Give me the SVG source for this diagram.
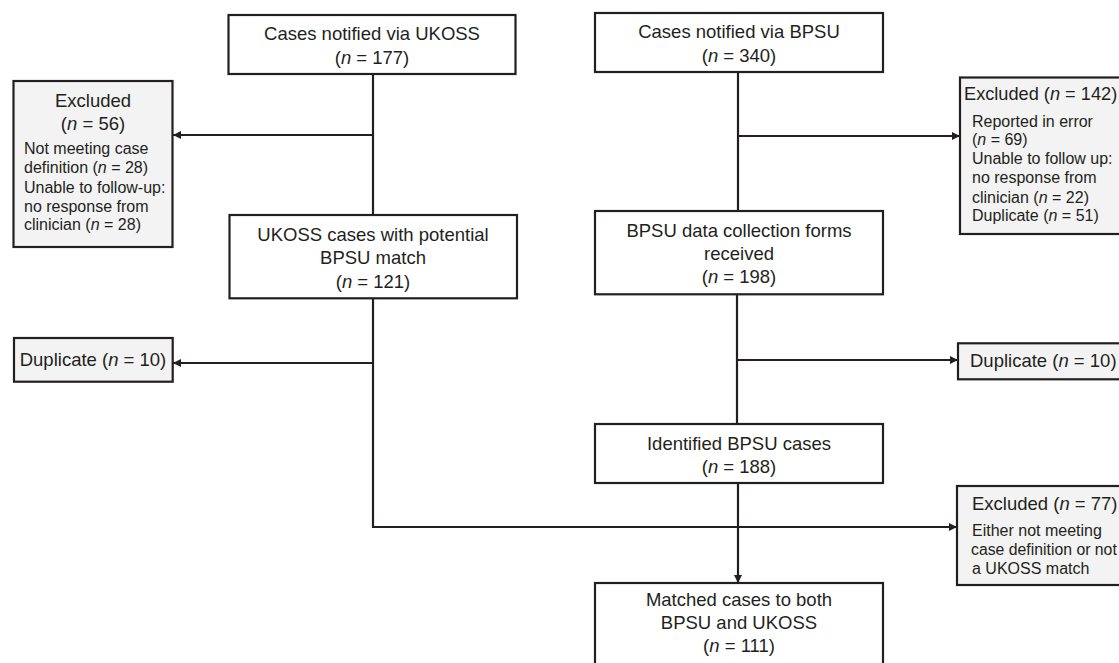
<svg xmlns="http://www.w3.org/2000/svg" width="1119" height="663" viewBox="0 0 1119 663">
<defs>
<marker id="arr" viewBox="0 0 10 10" refX="10" refY="5" markerWidth="9" markerHeight="8" markerUnits="userSpaceOnUse" orient="auto">
<path d="M0,0 L10,5 L0,10 z" fill="#231f20"/>
</marker>
<style>
.box{fill:#ffffff;stroke:#231f20;stroke-width:2.2}
.exc{fill:#f3f3f3;stroke:#231f20;stroke-width:2.2}
.ln{fill:none;stroke:#231f20;stroke-width:2.2}
.arw{fill:none;stroke:#231f20;stroke-width:2.2;marker-end:url(#arr)}
text{font-family:"Liberation Sans",Arial,Helvetica,sans-serif;fill:#231f20}
.t{font-size:18.5px;text-anchor:middle}
.tl{font-size:18.5px}
.s{font-size:16px}
.i{font-style:italic}
</style>
</defs>
<rect width="1119" height="663" fill="#ffffff"/>
<g id="connectors">
<line class="ln" x1="373" y1="74" x2="373" y2="215"/>
<line class="arw" x1="373" y1="135" x2="173" y2="135"/>
<line class="ln" x1="373" y1="298" x2="373" y2="528"/>
<line class="arw" x1="373" y1="363" x2="173" y2="363"/>
<line class="arw" x1="372" y1="527" x2="957" y2="527"/>
<line class="ln" x1="738" y1="72" x2="738" y2="211"/>
<line class="arw" x1="738" y1="136" x2="960" y2="136"/>
<line class="ln" x1="737" y1="294" x2="737" y2="424"/>
<line class="arw" x1="737" y1="360" x2="958" y2="360"/>
<line class="arw" x1="738" y1="483" x2="738" y2="583"/>
</g>
<g id="ukoss">
<rect class="box" x="228.5" y="15" width="287" height="59"/>
<text class="t" x="372" y="39.5">Cases notified via UKOSS</text>
<text class="t" x="372" y="63.5">(<tspan class="i">n</tspan> = 177)</text>
</g>
<g id="bpsu">
<rect class="box" x="595" y="13" width="288" height="59"/>
<text class="t" x="739" y="38.3">Cases notified via BPSU</text>
<text class="t" x="739" y="61.8">(<tspan class="i">n</tspan> = 340)</text>
</g>
<g id="excluded-ukoss">
<rect class="exc" x="13.5" y="81" width="159" height="166"/>
<text class="t" x="93" y="106.6">Excluded</text>
<text class="t" x="93" y="129.6">(<tspan class="i">n</tspan> = 56)</text>
<text class="s" x="24" y="153.7">Not meeting case</text>
<text class="s" x="24" y="173.2">definition (<tspan class="i">n</tspan> = 28)</text>
<text class="s" x="24" y="192.7">Unable to follow-up:</text>
<text class="s" x="24" y="211.7">no response from</text>
<text class="s" x="24" y="230.2">clinician (<tspan class="i">n</tspan> = 28)</text>
</g>
<g id="excluded-bpsu">
<rect class="exc" x="960" y="77.5" width="170" height="156.5"/>
<text class="tl" x="964" y="99.8" style="font-size:18.2px">Excluded (<tspan class="i">n</tspan> = 142)</text>
<text class="s" x="972" y="126.8">Reported in error</text>
<text class="s" x="972" y="145.3">(<tspan class="i">n</tspan> = 69)</text>
<text class="s" x="972" y="164.3">Unable to follow up:</text>
<text class="s" x="972" y="183.3">no response from</text>
<text class="s" x="972" y="202.8">clinician (<tspan class="i">n</tspan> = 22)</text>
<text class="s" x="972" y="221.3">Duplicate (<tspan class="i">n</tspan> = 51)</text>
</g>
<g id="ukoss-potential">
<rect class="box" x="229.5" y="215" width="287.5" height="83.3"/>
<text class="t" x="373" y="240.6">UKOSS cases with potential</text>
<text class="t" x="373" y="264.4">BPSU match</text>
<text class="t" x="373" y="287.6">(<tspan class="i">n</tspan> = 121)</text>
</g>
<g id="bpsu-forms">
<rect class="box" x="595" y="211" width="288" height="83.3"/>
<text class="t" x="739" y="236.6">BPSU data collection forms</text>
<text class="t" x="739" y="259.9">received</text>
<text class="t" x="739" y="282.6">(<tspan class="i">n</tspan> = 198)</text>
</g>
<g id="duplicate-ukoss">
<rect class="exc" x="14" y="338" width="158.7" height="43.7"/>
<text class="t" x="93" y="365.6">Duplicate (<tspan class="i">n</tspan> = 10)</text>
</g>
<g id="duplicate-bpsu">
<rect class="exc" x="958" y="343.3" width="170" height="36"/>
<text class="tl" x="970" y="366.8">Duplicate (<tspan class="i">n</tspan> = 10)</text>
</g>
<g id="identified-bpsu">
<rect class="box" x="595" y="424" width="288" height="59"/>
<text class="t" x="739" y="449.6">Identified BPSU cases</text>
<text class="t" x="739" y="473">(<tspan class="i">n</tspan> = 188)</text>
</g>
<g id="excluded-match">
<rect class="exc" x="957" y="486" width="175" height="99"/>
<text class="tl" x="972" y="509.8">Excluded (<tspan class="i">n</tspan> = 77)</text>
<text class="s" x="972" y="535.8">Either not meeting</text>
<text class="s" x="971" y="554.8" style="font-size:15.8px">case definition or not</text>
<text class="s" x="972" y="573.8">a UKOSS match</text>
</g>
<g id="matched">
<rect class="box" x="595" y="583" width="288" height="90"/>
<text class="t" x="739" y="606">Matched cases to both</text>
<text class="t" x="739" y="629.3">BPSU and UKOSS</text>
<text class="t" x="739" y="651.8">(<tspan class="i">n</tspan> = 111)</text>
</g>
</svg>
